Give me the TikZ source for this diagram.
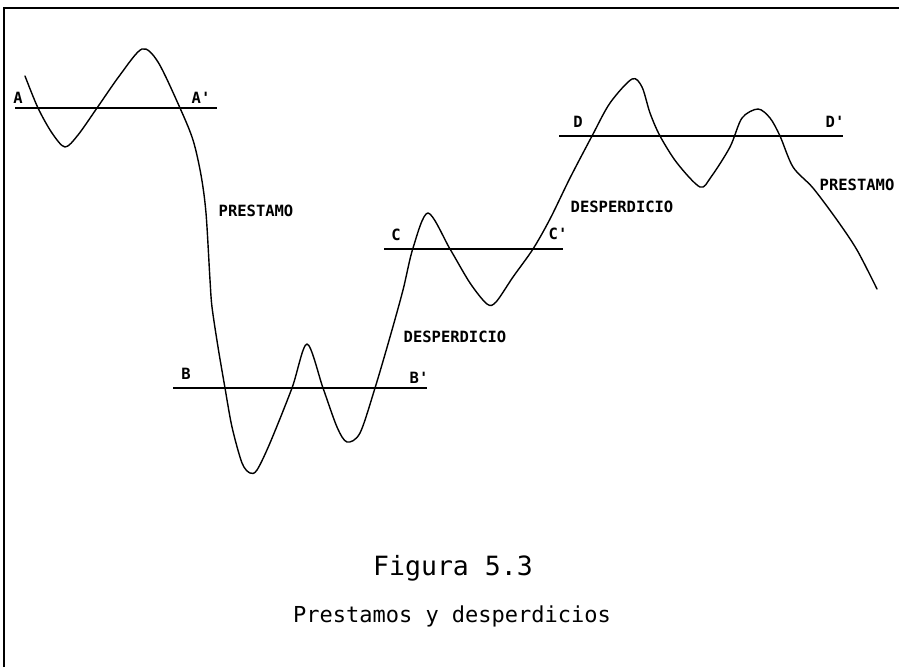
\documentclass[tikz,border=0pt]{standalone}
\usepackage{fontspec}
\newfontfamily\lblfont{DejaVu Sans Mono}
\tikzset{
  lbl/.style={font=\lblfont\bfseries\fontsize{15.5}{15.5}\selectfont, inner sep=0pt},
  refline/.style={line width=1.4pt},
  curve/.style={line width=1.4pt, line join=round, line cap=round},
  captext/.style={inner sep=0pt}
}
\begin{document}
\begin{tikzpicture}[x=1pt,y=-1pt]
\useasboundingbox (0,0) rectangle (899,667);
% frame
\draw[line width=1.6pt] (4,667) -- (4,8) -- (899,8);
% reference lines
\coordinate (a1) at (15,108); \coordinate (a2) at (217,108);
\coordinate (b1) at (173,388); \coordinate (b2) at (427,388);
\coordinate (c1) at (384,249); \coordinate (c2) at (563,249);
\coordinate (d1) at (559,136); \coordinate (d2) at (843,136);
\draw[refline] (a1) -- (a2);
\draw[refline] (b1) -- (b2);
\draw[refline] (c1) -- (c2);
\draw[refline] (d1) -- (d2);
% curve
\draw[curve] plot[smooth, tension=0.5] coordinates {
(25,76) (38,108) (52,133) (65,147) (78,135) (97,108) (120,75) (142,49) (158,62) (180,108)
(193,140) (201,175) (206,213) (210,280) (212,307) (218,347) (225,388) (232,427) (242,463)
(250,473) (257,470) (270,443) (292,388) (307,344) (323,388) (337,427) (347,442) (360,433)
(375,388) (390,337) (403,290) (413,248) (428,213) (450,249) (470,283) (487,304) (496,302)
(513,277) (533,249) (550,219) (570,178) (592,136) (610,103) (632,79) (642,87) (650,113)
(660,136) (677,163) (700,187) (711,177) (730,147) (742,118) (758,109) (770,118)
(780,136) (793,167) (813,188) (837,220) (857,250) (877,289)};
% labels
\node[lbl] (la) at (18,98) {A};
\node[lbl] (lap) at (201,98) {A'};
\node[lbl] (lb) at (186,374) {B};
\node[lbl] (lbp) at (419,378) {B'};
\node[lbl] (lc) at (396,235) {C};
\node[lbl] (lcp) at (558,234) {C'};
\node[lbl] (ld) at (578,122) {D};
\node[lbl] (ldp) at (835,122) {D'};
\node[lbl] (p1) at (256,211) {PRESTAMO};
\node[lbl] (p2) at (857,185) {PRESTAMO};
\node[lbl] (d1l) at (455,337) {DESPERDICIO};
\node[lbl] (d2l) at (622,207) {DESPERDICIO};
% caption
\node[captext, font=\lblfont\fontsize{26.5}{26.5}\selectfont, anchor=base] (fig) at (453,575) {Figura 5.3};
\node[captext, font=\lblfont\fontsize{22}{22}\selectfont, anchor=base] (sub) at (452,622) {Prestamos y desperdicios};
\end{tikzpicture}
\end{document}
